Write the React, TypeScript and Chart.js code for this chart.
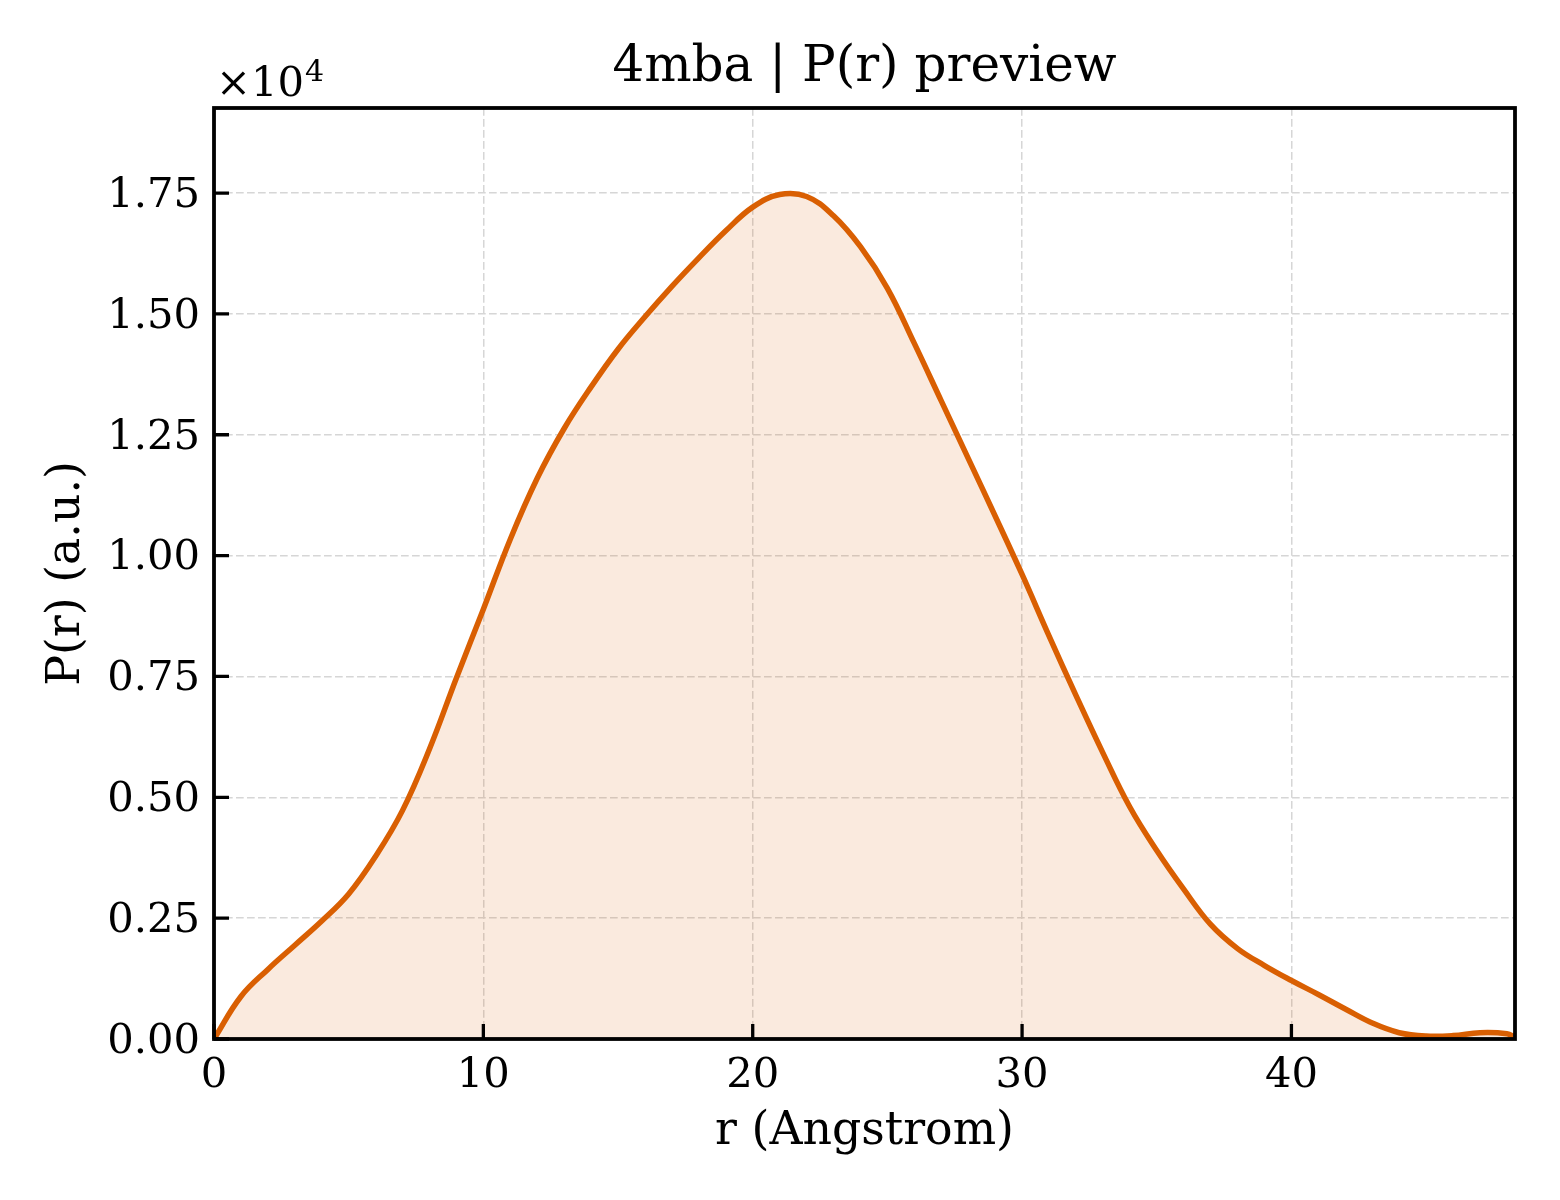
import { useEffect, useRef } from 'react';
import { Chart, registerables } from 'chart.js';

Chart.register(...registerables);

// r in Angstrom and P(r) in arbitrary units
const rAngstrom = [
  0, 1, 2, 3, 4, 5, 6, 7, 8, 9, 10, 11, 12, 13, 14, 15, 16, 17, 18, 19, 20, 21, 22, 23, 24,
  25, 26, 27, 28, 29, 30, 31, 32, 33, 34, 35, 36, 37, 38, 39, 40, 41, 42, 43, 44, 45, 46, 47, 48, 48.3,
];
const prValues = [
  0, 880, 1440, 1940, 2440, 3000, 3780, 4730, 6000, 7470, 8890, 10340, 11600, 12630, 13490,
  14270, 14940, 15570, 16160, 16720, 17210, 17470, 17430, 17030, 16390, 15530, 14390, 13200,
  12010, 10820, 9610, 8340, 7110, 5920, 4800, 3900, 3100, 2370, 1870, 1520, 1210, 920, 620,
  330, 130, 60, 70, 130, 110, 40,
];
const xTicks = [0, 10, 20, 30, 40];
const yTicks = [0, 2500, 5000, 7500, 10000, 12500, 15000, 17500];
const chartTitle = '4mba | P(r) preview';

const serif = '"DejaVu Serif", serif';
const lineColor = '#d95f02';

// title over the axes, spines, inward ticks and the x10^4 offset label
const axesFrame = {
  id: 'axesFrame',
  afterDatasetsDraw(chart: any) {
    const { ctx, chartArea, scales } = chart;
    const { left, top, right, bottom } = chartArea;
    ctx.save();
    ctx.strokeStyle = '#000';
    ctx.lineWidth = 3.3;
    ctx.beginPath();
    xTicks.forEach((v) => {
      const x = scales.x.getPixelForValue(v);
      ctx.moveTo(x, bottom);
      ctx.lineTo(x, bottom - 15);
    });
    yTicks.forEach((v) => {
      const y = scales.y.getPixelForValue(v);
      ctx.moveTo(left, y);
      ctx.lineTo(left + 15, y);
    });
    ctx.stroke();
    ctx.lineWidth = 3.8;
    ctx.strokeRect(left, top, right - left, bottom - top);

    ctx.fillStyle = '#000';
    ctx.font = `50px ${serif}`;
    ctx.textAlign = 'center';
    ctx.textBaseline = 'middle';
    ctx.fillText(chartTitle, (left + right) / 2, top - 40);

    ctx.textAlign = 'left';
    ctx.textBaseline = 'alphabetic';
    ctx.font = `41.7px ${serif}`;
    const base = '\u00d710';
    ctx.fillText(base, left + 2, top - 12);
    const w = ctx.measureText(base).width;
    ctx.font = `30px ${serif}`;
    ctx.fillText('4', left + 3 + w, top - 27);
    ctx.restore();
  },
};

export default function App() {
  const canvasRef = useRef<HTMLCanvasElement>(null);

  useEffect(() => {
    const canvas = canvasRef.current;
    if (!canvas) return;

    const chart = new Chart(canvas, {
      type: 'line',
      data: {
        datasets: [
          {
            data: rAngstrom.map((r, i) => ({ x: r, y: prValues[i] })),
            borderColor: lineColor,
            borderWidth: 5.5,
            backgroundColor: 'rgba(217, 95, 2, 0.13)',
            fill: 'origin',
            pointRadius: 0,
            tension: 0.4,
          },
        ],
      },
      options: {
        responsive: false,
        animation: false,
        devicePixelRatio: 1,
        layout: { padding: { left: 0, right: 45, top: 108, bottom: 0 } },
        plugins: {
          legend: { display: false },
          tooltip: { enabled: false },
          title: { display: false },
        },
        scales: {
          x: {
            type: 'linear',
            min: 0,
            max: 48.3,
            afterBuildTicks: (scale: any) => {
              scale.ticks = xTicks.map((v) => ({ value: v }));
            },
            afterFit: (scale: any) => {
              scale.height = 161;
            },
            grid: { color: '#d6d6d6', lineWidth: 1.5, drawTicks: false },
            border: { display: false, dash: [7.7, 3.3] },
            ticks: {
              color: '#000',
              font: { family: serif, size: 41.7 },
              padding: 12,
              maxRotation: 0,
              autoSkip: false,
              callback: (v: any) => String(v),
            },
            title: {
              display: true,
              text: 'r (Angstrom)',
              color: '#000',
              font: { family: serif, size: 45.8 },
              padding: { top: 0, bottom: 40 },
            },
          },
          y: {
            type: 'linear',
            min: 0,
            max: 19260,
            afterBuildTicks: (scale: any) => {
              scale.ticks = yTicks.map((v) => ({ value: v }));
            },
            afterFit: (scale: any) => {
              scale.width = 214;
            },
            grid: { color: '#d6d6d6', lineWidth: 1.5, drawTicks: false },
            border: { display: false, dash: [7.7, 3.3] },
            ticks: {
              color: '#000',
              font: { family: serif, size: 41.7 },
              padding: 14,
              labelOffset: 3,
              autoSkip: false,
              callback: (v: any) => (Number(v) / 1e4).toFixed(2),
            },
            title: {
              display: true,
              text: 'P(r) (a.u.)',
              color: '#000',
              font: { family: serif, size: 45.8 },
              padding: { top: 40, bottom: 0 },
            },
          },
        },
      },
      plugins: [axesFrame],
    });

    return () => chart.destroy();
  }, []);

  return (
    <div style={{ position: 'absolute', left: 0, top: 0, width: 1560, height: 1200, background: '#fff' }}>
      <canvas ref={canvasRef} width={1560} height={1200} style={{ display: 'block' }} />
    </div>
  );
}
